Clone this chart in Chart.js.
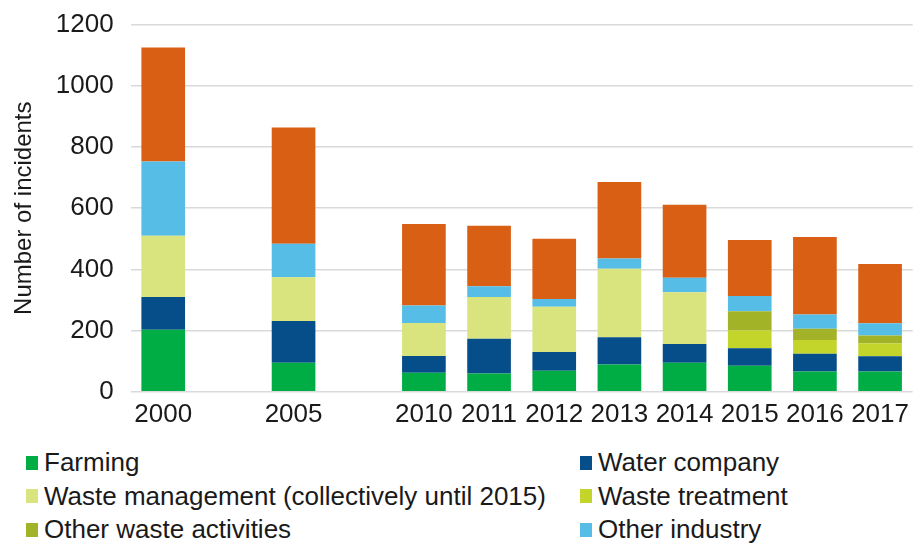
<!DOCTYPE html>
<html lang="en">
<head>
<meta charset="UTF-8">
<script src="https://cdn.jsdelivr.net/npm/chart.js@4/dist/chart.umd.min.js"></script>
<title>Pollution incidents by sector</title>
<style>
  body { margin: 0; background: #fff; overflow: hidden; }
  .wrap { position: relative; width: 913px; height: 543px; overflow: hidden; }
  #chart { position: absolute; left: 0; top: -8px; }
  .legend {
    position: absolute; left: 26px; top: 446px;
    display: grid; grid-template-columns: 554px auto;
    font-family: "Liberation Sans", Arial, sans-serif; font-size: 26px; color: #1a1a1a;
  }
  .legend div { height: 33.5px; display: flex; align-items: center; white-space: nowrap; }
  .legend span { display: inline-block; width: 12px; height: 14px; margin-right: 6px; }
</style>
</head>
<body>
<div class="wrap">
  <canvas id="chart" width="916" height="445"></canvas>
  <div class="legend" id="legend"></div>
</div>
<script>
// blank categories keep the gaps between 2000, 2005 and 2010
var years = ['2000', '', '2005', '', '2010', '2011', '2012', '2013', '2014', '2015', '2016', '2017'];

var farming      = [203, null, 95, null, 62, 60, 69, 89, 95, 85, 66, 66];
var water        = [107, null, 136, null, 55, 113, 61, 89, 61, 57, 58, 50];
var wasteMgmt    = [200, null, 143, null, 108, 137, 148, 224, 169, 0, 0, 0];
var wasteTreat   = [0, null, 0, null, 0, 0, 0, 0, 0, 58, 45, 42];
var otherWaste   = [0, null, 0, null, 0, 0, 0, 0, 0, 63, 37, 26];
var otherInd     = [243, null, 110, null, 57, 35, 25, 34, 48, 50, 47, 40];
var other        = [372, null, 380, null, 266, 198, 197, 250, 238, 183, 253, 194];

var yTicks = [0, 200, 400, 600, 800, 1000, 1200];

var font = "'Liberation Sans', Arial, sans-serif";

var sets = [
    { label: 'Farming', data: farming, backgroundColor: '#00ad45' },
    { label: 'Water company', data: water, backgroundColor: '#064e8a' },
    { label: 'Waste management (collectively until 2015)', data: wasteMgmt, backgroundColor: '#d9e47e' },
    { label: 'Waste treatment', data: wasteTreat, backgroundColor: '#c3d52b' },
    { label: 'Other waste activities', data: otherWaste, backgroundColor: '#a3b327' },
    { label: 'Other industry', data: otherInd, backgroundColor: '#56bde6' },
    { label: 'Other', data: other, backgroundColor: '#d95f14', noLegend: true }
];

sets.forEach(function (s) {
    s.barPercentage = 0.67;
    s.categoryPercentage = 1.0;
    s.borderWidth = 0;
});

var chart = new Chart(document.getElementById('chart'), {
    type: 'bar',
    data: { labels: years, datasets: sets },
    options: {
        responsive: false,
        animation: false,
        layout: { padding: { top: 0, left: 10, right: 0, bottom: 0 } },
        plugins: {
            legend: { display: false },
            tooltip: { enabled: false }
        },
        scales: {
            x: {
                stacked: true,
                grid: { display: false, drawTicks: false },
                border: { display: false },
                ticks: {
                    autoSkip: false, maxRotation: 0, color: '#1a1a1a', padding: 7,
                    font: { family: font, size: 26 }
                }
            },
            y: {
                stacked: true,
                min: 0, max: 1200,
                afterBuildTicks: function (axis) {
                    axis.ticks = yTicks.map(function (v) { return { value: v }; });
                },
                grid: { color: '#d9d9d9', lineWidth: 1.5, drawTicks: false },
                border: { display: false },
                ticks: {
                    color: '#1a1a1a', padding: 17,
                    font: { family: font, size: 26 },
                    callback: function (v) { return String(v); }
                },
                title: {
                    display: true, text: 'Number of incidents', color: '#1a1a1a',
                    font: { family: font, size: 24 }, padding: 0
                }
            }
        }
    }
});

var legend = document.getElementById('legend');
chart.data.datasets.forEach(function (ds) {
    if (ds.noLegend) return;
    var item = document.createElement('div');
    var box = document.createElement('span');
    box.style.background = ds.backgroundColor;
    item.appendChild(box);
    item.appendChild(document.createTextNode(ds.label));
    legend.appendChild(item);
});
</script>
</body>
</html>
